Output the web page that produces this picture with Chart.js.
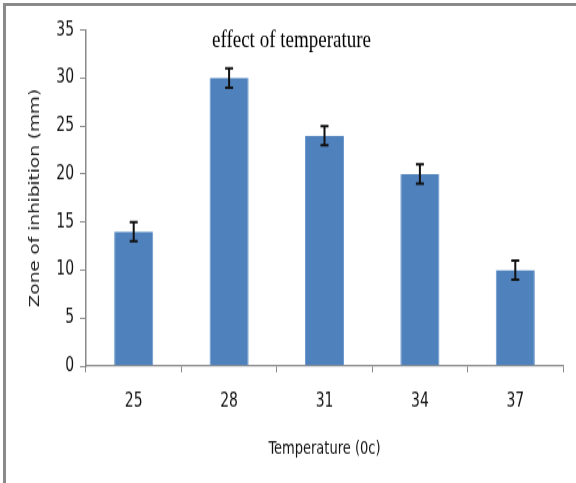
<!DOCTYPE html>
<html>
<head>
<meta charset="utf-8">
<script src="https://cdn.jsdelivr.net/npm/chart.js@4/dist/chart.umd.min.js"></script>
<style>
  body { margin: 0; background: #fff; }
  #wrap { position: relative; width: 576px; height: 483px; overflow: hidden; }
  /* the original picture is stretched vertically, so the canvas is too */
  #stretch { width: 576px; height: 380px; transform: scaleY(1.271); transform-origin: 0 0; }
  #frame { position: absolute; left: 3px; top: 3px; right: 0; bottom: 0;
           border-top: 3px solid #8a8a8a; border-left: 3px solid #8a8a8a; pointer-events: none; }
</style>
</head>
<body>
<div id="wrap">
  <div id="stretch"><canvas id="TempChart" width="576" height="380"></canvas></div>
  <div id="frame"></div>
</div>
<script>
    // data
    var temperatures = ['25', '28', '31', '34', '37'];
    var zoneValues = [14, 30, 24, 20, 10];
    var zoneErrors = [1, 1, 1, 1, 1];
    var yTicks = [0, 5, 10, 15, 20, 25, 30, 35];

    var narrow = "'Liberation Sans Narrow', 'DejaVu Sans Condensed', sans-serif";
    var tickFont = { family: narrow, size: 15.5 };

    // error bars drawn on top of the bars
    var errorBars = {
        id: 'errorBars',
        afterDatasetsDraw: function (chart) {
            var ctx = chart.ctx;
            var y = chart.scales.y;
            var meta = chart.getDatasetMeta(0);
            ctx.save();
            ctx.strokeStyle = '#111';
            ctx.lineWidth = 2;
            meta.data.forEach(function (bar, i) {
                var top = y.getPixelForValue(zoneValues[i] + zoneErrors[i]);
                var bot = y.getPixelForValue(zoneValues[i] - zoneErrors[i]);
                ctx.beginPath();
                ctx.moveTo(bar.x, top); ctx.lineTo(bar.x, bot);
                ctx.moveTo(bar.x - 4, top); ctx.lineTo(bar.x + 4, top);
                ctx.moveTo(bar.x - 4, bot); ctx.lineTo(bar.x + 4, bot);
                ctx.stroke();
            });
            ctx.restore();
        }
    };

    // title sits inside the plot area
    var innerTitle = {
        id: 'innerTitle',
        afterDraw: function (chart) {
            var ctx = chart.ctx;
            var a = chart.chartArea;
            ctx.save();
            ctx.fillStyle = '#000';
            ctx.font = "19px 'Liberation Serif', serif";
            ctx.textAlign = 'left';
            ctx.textBaseline = 'middle';
            ctx.fillText('effect of temperature', a.left + 126, a.top + 8);
            ctx.restore();
        }
    };

    var ctx = document.getElementById('TempChart').getContext('2d');
    var myBarChart = new Chart(ctx, {
        type: 'bar',
        data: {
            labels: temperatures,
            datasets: [{
                data: zoneValues,
                backgroundColor: '#4f81bd',
                borderColor: '#6a96cc',
                borderWidth: { left: 1, right: 1, top: 0, bottom: 0 },
                barPercentage: 0.41,
                categoryPercentage: 1
            }]
        },
        options: {
            responsive: false,
            animation: false,
            layout: { padding: { top: 23.6, right: 13, left: 0, bottom: 0 } },
            plugins: { legend: { display: false }, tooltip: { enabled: false } },
            scales: {
                x: {
                    grid: { offset: true, drawOnChartArea: false, drawTicks: true, tickLength: 5, color: '#8a8a8a' },
                    border: { color: '#8a8a8a', width: 1.3 },
                    ticks: { color: '#111', font: tickFont, padding: 14 },
                    title: { display: true, text: 'Temperature (0c)', color: '#111',
                             font: { family: narrow, size: 14.5 }, padding: { top: 0, bottom: 18.5 } },
                    afterFit: function (s) { s.height = 92; }
                },
                y: {
                    min: 0, max: 35,
                    afterBuildTicks: function (s) { s.ticks = yTicks.map(function (v) { return { value: v }; }); },
                    grid: { drawOnChartArea: false, drawTicks: true, tickLength: 6, color: '#8a8a8a' },
                    border: { color: '#8a8a8a', width: 1.5 },
                    ticks: { color: '#111', font: tickFont, padding: 6 },
                    title: { display: true, text: 'Zone of inhibition (mm)', color: '#222',
                             font: { family: "'DejaVu Sans', sans-serif", size: 14.5 }, padding: { top: 27, bottom: 0 } },
                    afterFit: function (s) { s.width = 86; }
                }
            }
        },
        plugins: [errorBars, innerTitle]
    });
</script>
</body>
</html>
